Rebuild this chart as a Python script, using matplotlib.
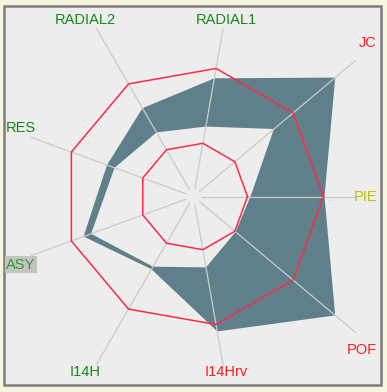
import numpy as np
import matplotlib
matplotlib.use("Agg")
import matplotlib.pyplot as plt
from matplotlib.patches import Rectangle, PathPatch
from matplotlib.path import Path

# axes, counter-clockwise starting at 3 o'clock
categories = ["PIE", "JC", "RADIAL1", "RADIAL2", "RES", "ASY", "I14H", "I14Hrv", "POF"]
label_colors = ["#c4bc00", "#ff1e1e", "#16881a", "#16881a", "#16881a",
                "#2f9c2f", "#16881a", "#ff1e1e", "#ff1e1e"]
upper_band = [131, 185, 120, 102, 92, 117, 84, 137, 185]
lower_band = [57, 105, 71, 74, 84, 109, 81, 72, 55]
lower_limit = 54
upper_limit = 130

plt.rcParams["font.family"] = ["Liberation Sans", "DejaVu Sans"]

fig = plt.figure(figsize=(3.87, 3.92), dpi=100, facecolor="#f7f4e0")
ax = fig.add_axes([0, 0, 1, 1])
ax.set_xlim(0, 387); ax.set_ylim(392, 0); ax.axis("off")
ax.add_patch(Rectangle((4, 6), 377, 379, facecolor="#ededed", edgecolor="#7c7c7c", lw=1.8))

cx, cy = 193.5, 196.5
n = len(categories)
theta = np.deg2rad(np.arange(n) * 360 / n)
c, s = np.cos(theta), np.sin(theta)


def xy(r):
    r = np.asarray(r, float)
    return cx + r * c, cy - r * s


# band between lower and upper profile
ox, oy = xy(upper_band); ix, iy = xy(lower_band)
verts = np.vstack([np.column_stack([ox, oy]), [[ox[0], oy[0]]],
                   np.column_stack([ix[::-1], iy[::-1]]), [[ix[-1], iy[-1]]]])
codes = ([Path.MOVETO] + [Path.LINETO] * (n - 1) + [Path.CLOSEPOLY]) * 2
ax.add_patch(PathPatch(Path(verts, codes), facecolor="#5f7f8b", edgecolor="none"))

# spokes, clipped to an inner box
reach = np.minimum(162 / np.maximum(np.abs(c), 1e-9), 168 / np.maximum(np.abs(s), 1e-9))
for k in range(n):
    ax.plot([cx + 8 * c[k], cx + reach[k] * c[k]], [cy - 8 * s[k], cy - reach[k] * s[k]],
            color="#cbcbcb", lw=0.9, zorder=2)

# limit rings
for lim in (lower_limit, upper_limit):
    px, py = xy([lim] * n)
    ax.plot(np.append(px, px[0]), np.append(py, py[0]), color="#ff2a48", lw=1.1, zorder=3)

# labels where the spoke meets the panel edge
for k, name in enumerate(categories):
    if abs(c[k]) > 0.7:
        x, ha = (377, "right") if c[k] > 0 else (6, "left")
        y = cy - (x - cx) * s[k] / c[k]
    else:
        y = 20 if s[k] > 0 else 372
        ye = 9 if s[k] > 0 else 384
        x = cx + (cy - ye) * c[k] / s[k]
        ha = "center"
    bbox = dict(boxstyle="square,pad=0.1", fc="#c4c4c4", ec="none") if name == "ASY" else None
    ax.text(x, y, name, color=label_colors[k], fontsize=10.5, ha=ha, va="center",
            bbox=bbox, zorder=4)

fig.savefig("out.png", dpi=100, facecolor=fig.get_facecolor())
